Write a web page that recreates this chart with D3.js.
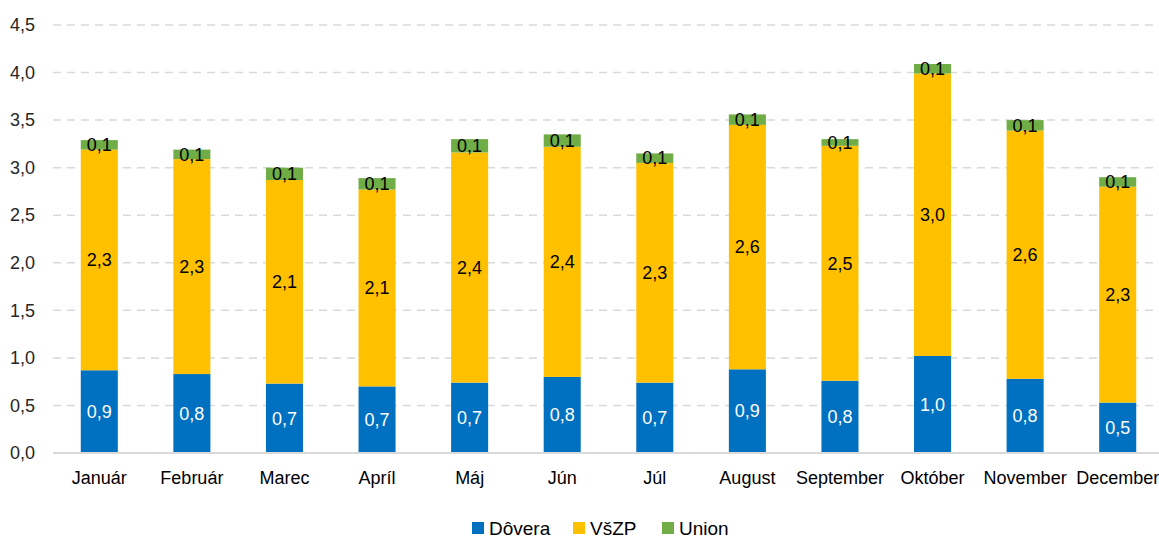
<!DOCTYPE html>
<html>
<head>
<meta charset="utf-8">
<script src="https://cdn.jsdelivr.net/npm/d3@7"></script>
<style>
  body { margin: 0; background: #fff; }
  svg { font-family: "Liberation Sans", Arial, sans-serif; }
</style>
</head>
<body>
<div id="chart"></div>
<script>
// data
let months = ["Január","Február","Marec","Apríl","Máj","Jún","Júl","August","September","Október","November","December"]
let dovera = [0.87, 0.83, 0.73, 0.70, 0.74, 0.80, 0.74, 0.88, 0.76, 1.02, 0.78, 0.53]
let vszp   = [2.32, 2.26, 2.14, 2.07, 2.42, 2.42, 2.31, 2.57, 2.47, 2.97, 2.61, 2.27]
let union  = [0.10, 0.10, 0.13, 0.12, 0.14, 0.13, 0.10, 0.11, 0.07, 0.10, 0.11, 0.10]
let seriesNames = ["Dôvera", "VšZP", "Union"]
let colours = ["#0070c0", "#ffc000", "#70ad47"]
let yTicks = [0, 0.5, 1, 1.5, 2, 2.5, 3, 3.5, 4, 4.5]

let svgWidth = 1159
let svgHeight = 539

let svg = d3.select("#chart")
    .append("svg")
        .attr("width", svgWidth)
        .attr("height", svgHeight)

let table = months.map(function(m, i){
    return {month: m, "Dôvera": dovera[i], "VšZP": vszp[i], "Union": union[i]}
})

let stacked = d3.stack().keys(seriesNames)(table)

let x = d3.scaleBand()
    .domain(months)
    .range([53, 1164])
    .paddingInner(0.6)
    .paddingOuter(0.3)

let y = d3.scaleLinear()
    .domain([0, 4.5])
    .range([453, 25])

let fmt = function(v){ return d3.format(".1f")(v).replace(".", ",") }

//gridlines
svg.append("g")
    .selectAll("line")
    .data(yTicks.slice(1))
    .join("line")
    .attr("x1", 53)
    .attr("x2", svgWidth)
    .attr("y1", d => y(d))
    .attr("y2", d => y(d))
    .attr("stroke", "#d9d9d9")
    .attr("stroke-width", 1.5)
    .attr("stroke-dasharray", "8,6")

//y axis labels
let yAxis = svg.append("g")
    .attr("transform", "translate(35,0)")
    .call(d3.axisLeft(y).tickValues(yTicks).tickFormat(fmt).tickSize(0).tickPadding(0))
yAxis.select(".domain").remove()
yAxis.selectAll("text")
    .style("font-size", "18px")
    .style("fill", "#262626")
    .style("font-family", "Liberation Sans, Arial, sans-serif")

//bars
let groups = svg.append("g")
    .selectAll("g")
    .data(stacked)
    .join("g")
    .attr("fill", (d, i) => colours[i])

groups.selectAll("rect")
    .data(d => d)
    .join("rect")
    .attr("x", d => x(d.data.month))
    .attr("width", x.bandwidth())
    .attr("y", d => y(d[1]))
    .attr("height", d => y(d[0]) - y(d[1]))

//baseline
svg.append("line")
    .attr("x1", 53)
    .attr("x2", svgWidth)
    .attr("y1", y(0))
    .attr("y2", y(0))
    .attr("stroke", "#d9d9d9")
    .attr("stroke-width", 2)

//value labels
stacked.forEach(function(s, i){
    svg.append("g")
        .selectAll("text")
        .data(s)
        .join("text")
        .attr("x", d => x(d.data.month) + x.bandwidth() / 2)
        .attr("y", d => (y(d[0]) + y(d[1])) / 2)
        .attr("dy", "0.35em")
        .attr("text-anchor", "middle")
        .style("font-size", "18px")
        .style("fill", i == 0 ? "#ffffff" : "#000000")
        .text(d => fmt(d[1] - d[0]))
})

//x axis labels
let xAxis = svg.append("g")
    .attr("transform", `translate(0,${y(0)})`)
    .call(d3.axisBottom(x).tickSize(0).tickPadding(18))
xAxis.select(".domain").remove()
xAxis.selectAll("text")
    .style("font-size", "18px")
    .style("fill", "#000000")
    .style("font-family", "Liberation Sans, Arial, sans-serif")

//legend
let legendX = [472, 573, 662]
let legend = svg.append("g")
    .selectAll("g")
    .data(seriesNames)
    .join("g")
    .attr("transform", (d, i) => `translate(${legendX[i]},522)`)
legend.append("rect")
    .attr("width", 12)
    .attr("height", 12)
    .attr("fill", (d, i) => colours[i])
legend.append("text")
    .attr("x", 17)
    .attr("y", 6)
    .attr("dy", "0.36em")
    .style("font-size", "19px")
    .style("fill", "#000000")
    .text(d => d)
</script>
</body>
</html>
